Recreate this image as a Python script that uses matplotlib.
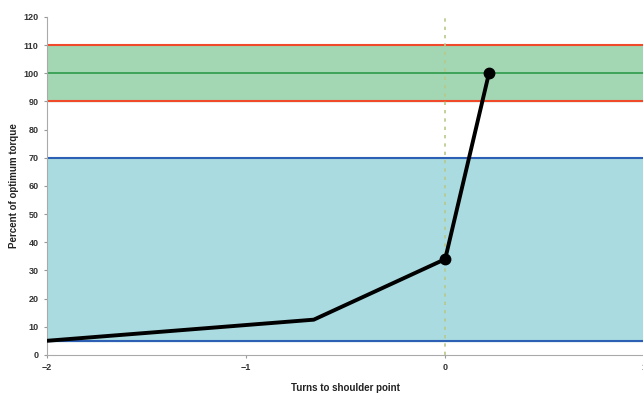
import matplotlib
matplotlib.use("Agg")
import matplotlib.pyplot as plt

turns = [-2, -0.66, 0, 0.22]
torque = [5, 12.5, 34, 100]
marked_turns = [0, 0.22]
marked_torque = [34, 100]

yticks = [0, 10, 20, 30, 40, 50, 60, 70, 80, 90, 100, 110, 120]
xticks = [-2, -1, 0, 1]

plt.rcParams['font.family'] = ['Liberation Sans', 'DejaVu Sans']

fig = plt.figure(figsize=(6.43, 3.93), dpi=100)
ax = fig.add_axes([0.073, 0.097, 0.929, 0.86])

# bandes
ax.axhspan(90, 110, color='#a3d6b3', zorder=0)
ax.axhspan(5, 70, color='#a9dbe0', zorder=0)
ax.axhline(110, color='#f04a2a', lw=1.5, zorder=1)
ax.axhline(90, color='#f04a2a', lw=1.5, zorder=1)
ax.axhline(100, color='#2e9a4a', lw=1.2, zorder=1)
ax.axhline(70, color='#2d5fb5', lw=1.5, zorder=1)
ax.axhline(5, color='#2d5fb5', lw=1.5, zorder=1)
ax.axvline(0, color='#b8c98a', lw=1.2, ls=(0, (2, 3)), zorder=1)

ax.plot(turns, torque, color='black', lw=2.8, zorder=3, solid_capstyle='butt')
ax.plot(marked_turns, marked_torque, 'o', color='black', ms=7.5, zorder=4)

ax.set_xlim(-2, 1)
ax.set_ylim(0, 120)
ax.set_xticks(xticks)
ax.set_yticks(yticks)
ax.tick_params(labelsize=6.5, length=2, color='#999999', pad=4)
for lab in ax.get_xticklabels() + ax.get_yticklabels():
    lab.set_fontweight('bold')
    lab.set_color('#333333')

for s in ['top', 'right']:
    ax.spines[s].set_visible(False)
for s in ['left', 'bottom']:
    ax.spines[s].set_color('#aaaaaa')

ax.set_xlabel('Turns to shoulder point', fontsize=7, fontweight='bold', color='#222222', labelpad=8)
ax.set_ylabel('Percent of optimum torque', fontsize=7, fontweight='bold', color='#222222', labelpad=3)

fig.savefig('out.png', dpi=100)
